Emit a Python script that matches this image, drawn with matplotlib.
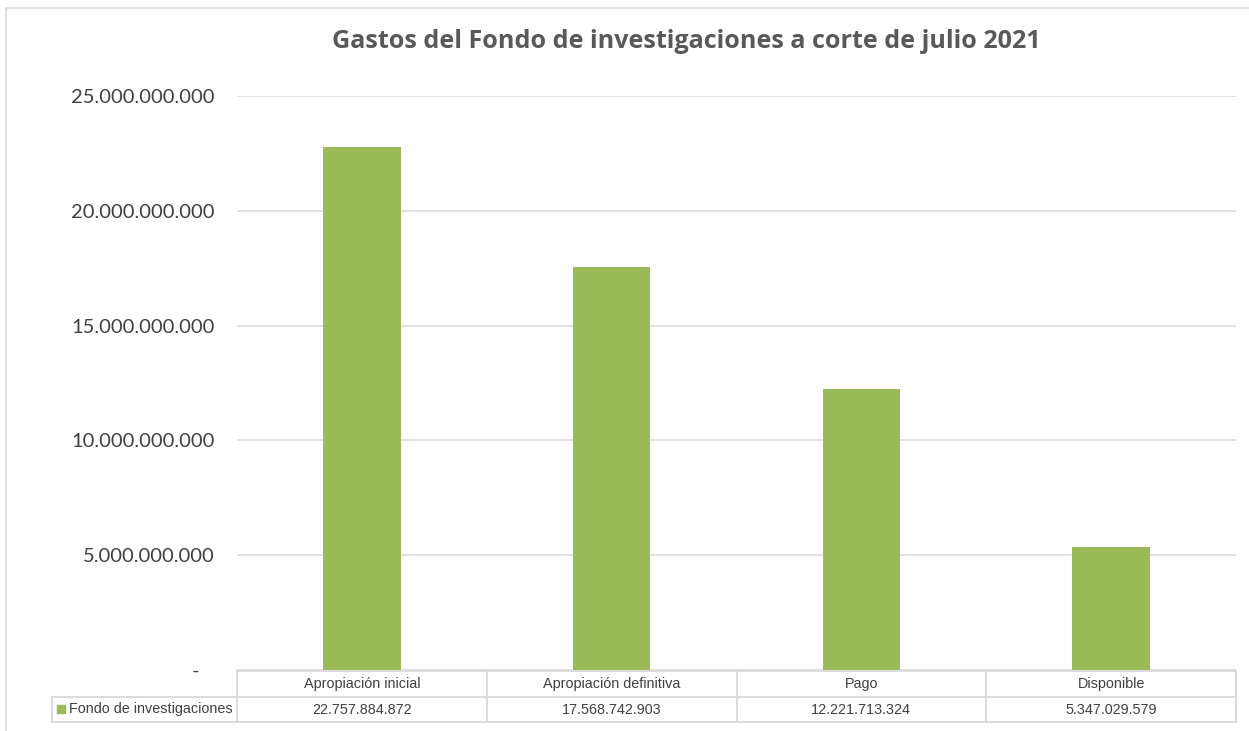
import matplotlib
matplotlib.use("Agg")
import matplotlib.pyplot as plt
from matplotlib.transforms import blended_transform_factory
from matplotlib.patches import Rectangle
from matplotlib import font_manager

categories = ["Apropiación inicial", "Apropiación definitiva", "Pago", "Disponible"]
values = [22757884872, 17568742903, 12221713324, 5347029579]
series_name = "Fondo de investigaciones"
value_labels = ["22.757.884.872", "17.568.742.903", "12.221.713.324", "5.347.029.579"]
yticks = [0, 5e9, 10e9, 15e9, 20e9, 25e9]
ytick_labels = ["-   ", "5.000.000.000", "10.000.000.000", "15.000.000.000",
                "20.000.000.000", "25.000.000.000"]
title = "Gastos del Fondo de investigaciones a corte de julio 2021"

names = {f.name for f in font_manager.fontManager.ttflist}
narrow = "Liberation Sans Narrow" if "Liberation Sans Narrow" in names else "Liberation Sans"
tsize = 11.5 if narrow == "Liberation Sans Narrow" else 10.4

W, H = 1249, 731
fig = plt.figure(figsize=(W / 100, H / 100), dpi=100)
fig.patch.set_facecolor("white")

# outer chart border
fig.add_artist(Rectangle((6 / W, -0.05), 1.1, 1 - 8 / H + 0.05, transform=fig.transFigure,
                         fill=False, edgecolor="#D9D9D9", linewidth=1.2))

ax_l, ax_r, ax_t, ax_b = 237, 1236, 96, 670
ax = fig.add_axes([ax_l / W, 1 - ax_b / H, (ax_r - ax_l) / W, (ax_b - ax_t) / H])
x = list(range(len(categories)))
ax.bar(x, values, width=0.31, color="#9BBB59", zorder=3)
ax.set_xlim(-0.5, len(categories) - 0.5)
ax.set_ylim(0, 25e9)
ax.set_yticks(yticks)
ax.set_yticklabels(ytick_labels, fontsize=14.5, color="#404040", family="Lato")
ax.tick_params(axis="y", length=0, pad=16)
ax.set_xticks([])
ax.yaxis.grid(True, color="#D9D9D9", linewidth=1.1, zorder=0)
for s in ax.spines.values():
    s.set_visible(False)

fig.text(686 / W, 1 - 42 / H, title, ha="center", va="center", fontsize=18.1,
         fontweight="bold", color="#595959", family="Open Sans")

# data table below axes
axh = ax_b - ax_t
def yf(py):
    return (ax_b - py) / axh

tr = blended_transform_factory(ax.transData, ax.transAxes)
lc = "#D9D9D9"
lw = 1.3
y_top, y_mid, y_bot = yf(671), yf(697), yf(722)
x_leg = -0.5 - (237 - 52) / 250
n = len(categories)
# horizontal lines
ax.plot([-0.5, n - 0.5], [y_top, y_top], transform=tr, color=lc, lw=lw, clip_on=False)
ax.plot([x_leg, n - 0.5], [y_mid, y_mid], transform=tr, color=lc, lw=lw, clip_on=False)
ax.plot([x_leg, n - 0.5], [y_bot, y_bot], transform=tr, color=lc, lw=lw, clip_on=False)
# vertical lines
for i in range(n + 1):
    ax.plot([i - 0.5, i - 0.5], [y_top, y_bot], transform=tr, color=lc, lw=lw, clip_on=False)
ax.plot([x_leg, x_leg], [y_mid, y_bot], transform=tr, color=lc, lw=lw, clip_on=False)

tc = "#404040"
for i, (c, v) in enumerate(zip(categories, value_labels)):
    ax.text(i, (y_top + y_mid) / 2, c, transform=tr, ha="center", va="center",
            fontsize=tsize, color=tc, family=narrow)
    ax.text(i, (y_mid + y_bot) / 2, v, transform=tr, ha="center", va="center",
            fontsize=tsize, color=tc, family=narrow)

# legend key + series name
ax.add_patch(Rectangle((x_leg + 5 / 250, (y_mid + y_bot) / 2 - 3.5 / axh), 8 / 250, 8 / axh,
                       transform=tr, color="#9BBB59", clip_on=False))
ax.text(x_leg + 17 / 250, (y_mid + y_bot) / 2, series_name, transform=tr, ha="left",
        va="center", fontsize=tsize, color=tc, family=narrow)

fig.savefig("out.png", dpi=100)
